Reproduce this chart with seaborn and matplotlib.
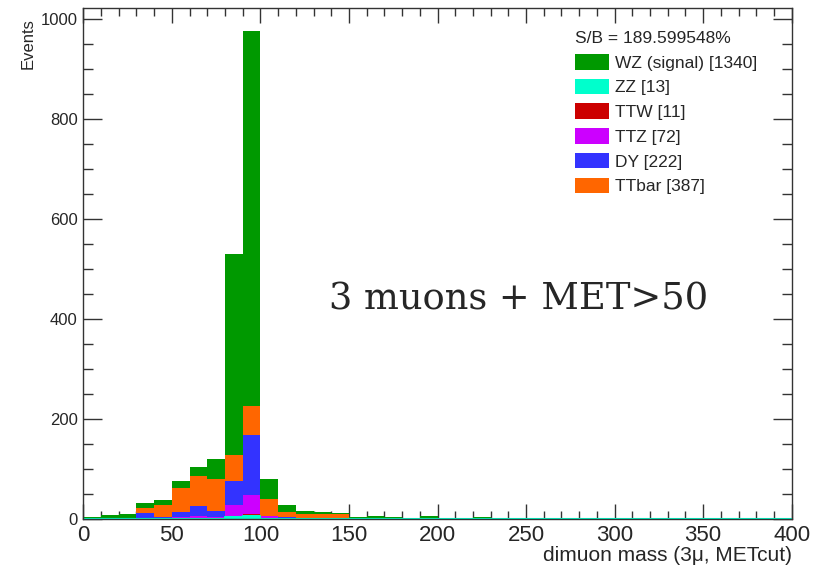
import numpy as np
import pandas as pd
import matplotlib
matplotlib.use("Agg")
import matplotlib.pyplot as plt
from matplotlib.patches import Patch
from matplotlib.ticker import MultipleLocator
import seaborn as sns

# ---- data (events per 10 GeV bin, bins 0-10 ... 230-240) ----
bin_lo = list(range(0, 240, 10))
zz    = [0, 0, 0, 0, 0, 1, 1, 1, 5, 7, 1, 0, 0, 0, 0, 0, 0, 0, 0, 0, 0, 0, 0, 0]
ttw   = [0, 0, 0, 0, 0, 1, 1, 2, 2, 3, 2, 1, 0, 0, 0, 0, 0, 0, 0, 0, 0, 0, 0, 0]
ttz   = [0, 0, 0, 3, 1, 2, 4, 2, 21, 38, 3, 1, 1, 0, 0, 0, 0, 0, 0, 0, 0, 0, 0, 0]
dy    = [0, 1, 1, 10, 3, 11, 20, 12, 49, 120, 1, 2, 2, 2, 1, 0, 0, 0, 0, 0, 0, 0, 0, 0]
ttbar = [1, 1, 2, 10, 24, 48, 60, 63, 51, 58, 34, 11, 8, 8, 9, 1, 2, 3, 0, 1, 0, 0, 3, 0]
wz    = [3, 7, 8, 10, 11, 14, 19, 41, 401, 749, 40, 13, 6, 4, 2, 4, 5, 1, 1, 5, 1, 1, 1, 1]

samples = ["WZ (signal)", "ZZ", "TTW", "TTZ", "DY", "TTbar"]
totals = [1340, 13, 11, 72, 222, 387]
colors = ["#009900", "#00ffcc", "#cc0000", "#cc00ff", "#3333ff", "#ff6600"]
sb_text = "S/B = 189.599548%"
series = {"WZ (signal)": wz, "ZZ": zz, "TTW": ttw, "TTZ": ttz, "DY": dy, "TTbar": ttbar}

rows = []
for name, vals in series.items():
    for lo, v in zip(bin_lo, vals):
        rows.append({"mass": lo + 5, "events": v, "sample": name})
df = pd.DataFrame(rows)

# ---- plot ----
sns.set_style("ticks")
plt.rcParams["font.family"] = ["Liberation Sans", "DejaVu Sans"]

fig = plt.figure(figsize=(8.29, 5.68), dpi=100)
ax = fig.add_axes([0.1005, 0.0857, 0.8545, 0.9002])

# first hue level ends up on top of the stack
stack_order = ["WZ (signal)", "TTbar", "DY", "TTZ", "TTW", "ZZ"]
pal = dict(zip(samples, colors))
sns.histplot(data=df, x="mass", weights="events", hue="sample",
             hue_order=stack_order, palette=pal, multiple="stack",
             binwidth=10, binrange=(0, 400), element="bars", alpha=1,
             linewidth=0, legend=False, ax=ax)
# ZZ outline runs along the whole axis like in ROOT
sns.histplot(data=df[df["sample"] == "ZZ"], x="mass", weights="events",
             binwidth=10, binrange=(0, 400), element="step", fill=False,
             color=pal["ZZ"], linewidth=1.5, ax=ax)

ax.set_xlim(0, 400)
ax.set_ylim(0, 1021)
ax.xaxis.set_major_locator(MultipleLocator(50))
ax.xaxis.set_minor_locator(MultipleLocator(10))
ax.yaxis.set_major_locator(MultipleLocator(200))
ax.yaxis.set_minor_locator(MultipleLocator(50))
ax.tick_params(which="both", direction="in", top=True, right=True,
               color="#333333", width=1)
ax.tick_params(axis="x", which="major", length=11, labelsize=16, pad=4)
ax.tick_params(axis="x", which="minor", length=5.5)
ax.tick_params(axis="y", which="major", length=14, labelsize=12, pad=4)
ax.tick_params(axis="y", which="minor", length=7)
for s in ax.spines.values():
    s.set_color("#333333")
    s.set_linewidth(1)

ax.set_xlabel("dimuon mass (3\u03bc, METcut)", fontsize=15, ha="right")
ax.xaxis.set_label_coords(1.0, -0.053)
ax.set_ylabel("Events", fontsize=12, ha="right")
ax.yaxis.set_label_coords(-0.068, 0.98)

handles = [Patch(facecolor=c, edgecolor="none") for c in colors]
labels = [f"{n} [{t}]" for n, t in zip(samples, totals)]
leg = ax.legend(handles, labels, title=sb_text, loc="upper left",
                bbox_to_anchor=(0.694, 0.955), frameon=False, fontsize=12.5,
                title_fontsize=12.5, alignment="left", borderpad=0,
                handlelength=1.95, handleheight=1.0, labelspacing=0.46,
                handletextpad=0.38, borderaxespad=0)

ax.text(0.615, 0.43, "3 muons + MET>50", transform=ax.transAxes,
        fontsize=26.5, family="DejaVu Serif", ha="center", va="center")

fig.savefig("out.png", dpi=100)
